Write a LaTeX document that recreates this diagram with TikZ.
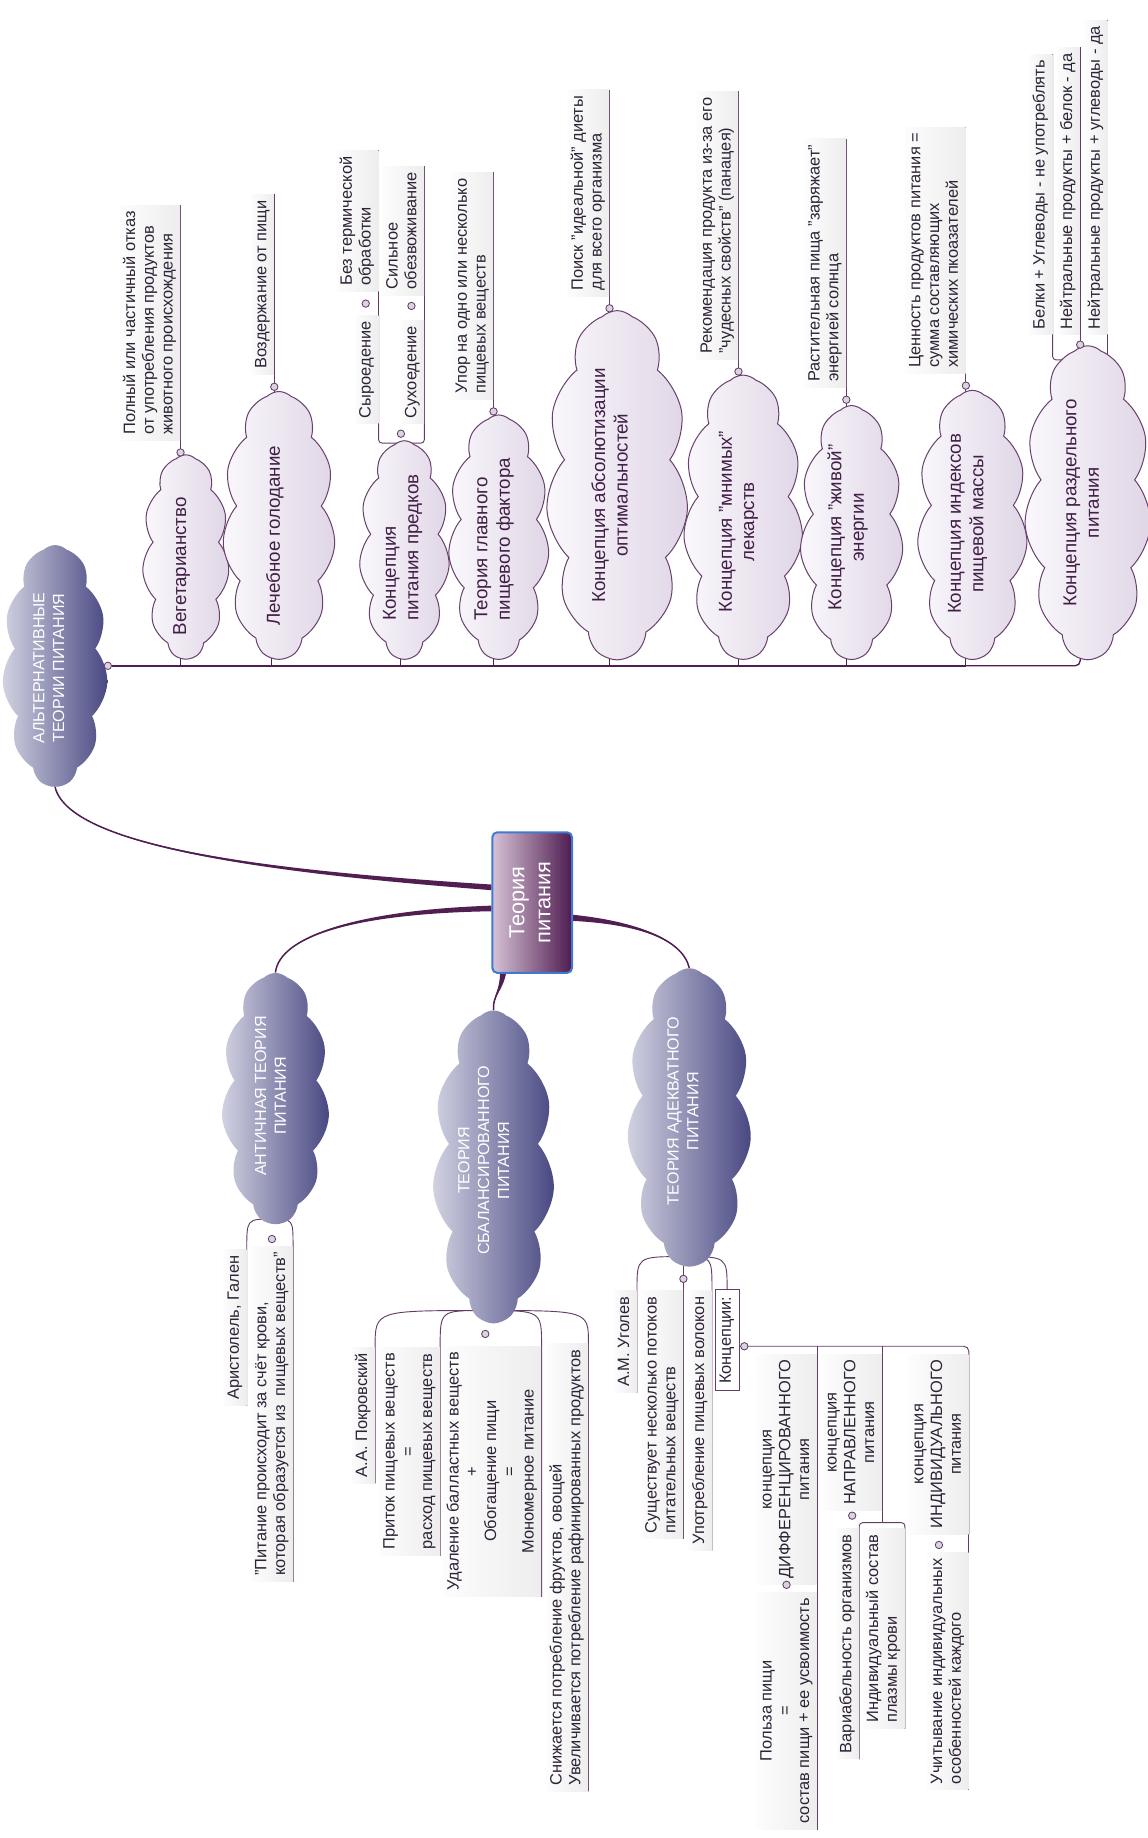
\documentclass[tikz,border=0pt]{standalone}
\usepackage{fontspec}
\usepackage{graphicx}
\setmainfont{Liberation Sans}
\usetikzlibrary{shapes.symbols,calc}
\definecolor{conn}{RGB}{80,30,80}
\definecolor{lnc}{RGB}{100,60,100}
\definecolor{mlight}{RGB}{210,210,226}
\definecolor{mdark}{RGB}{72,72,130}
\definecolor{alight}{RGB}{250,248,252}
\definecolor{adark}{RGB}{224,214,230}
\definecolor{aline}{RGB}{105,65,110}
\definecolor{rlight}{RGB}{214,194,214}
\definecolor{rdark}{RGB}{78,28,80}
\definecolor{rborder}{RGB}{65,120,210}
\definecolor{dotfill}{RGB}{218,212,225}
\definecolor{txt}{RGB}{45,35,55}
\definecolor{ctxt}{RGB}{65,30,70}
\pgfdeclarelayer{bg}
\pgfsetlayers{bg,main}
\newcommand\un{0.7pt}
\newcommand\lfL[1]{\rotatebox{90}{\begin{tabular}{@{}l@{}}#1\end{tabular}}}
\newcommand\lfC[1]{\rotatebox{90}{\begin{tabular}{@{}c@{}}#1\end{tabular}}}
\tikzset{
  leaf/.style={rectangle, inner xsep=1.2pt, inner ysep=3.5pt, left color=black!1, right color=black!7, font=\fontsize{9.8}{11.2}\selectfont, text=txt},
  koncbox/.style={rectangle, draw=lnc, line width=0.6pt, fill=white, inner xsep=1.6pt, inner ysep=4pt, font=\fontsize{9.8}{11.2}\selectfont, text=txt},
  uline/.style={draw=lnc, line width=0.55pt},
  stem/.style={draw=conn, line width=0.6pt},
  dotn/.style={circle, draw=lnc, fill=dotfill, line width=0.5pt, inner sep=0pt, minimum size=4.4pt},
  cloudbase/.style={cloud, cloud puffs=11, cloud puff arc=88, cloud ignores aspect, inner sep=0pt},
  acloud/.style={cloudbase, draw=aline, line width=0.6pt, left color=alight, right color=adark},
  mcloud/.style={cloudbase, draw=none, left color=mlight, right color=mdark},
  atext/.style={font=\fontsize{11.2}{13.4}\selectfont, text=ctxt, inner sep=0pt},
  mtext/.style={font=\fontsize{9.6}{11.8}\selectfont, text=white, inner sep=0pt},
  rootbox/.style={rectangle, rounded corners=3pt, draw=rborder, line width=1.2pt, left color=rlight, right color=rdark, inner sep=0pt, font=\fontsize{13}{15.5}\selectfont, text=white},
}
\begin{document}
\begin{tikzpicture}[x=\un,y=-\un]
\useasboundingbox (0,0) rectangle (979,1568);
% ---------- root
\node[rootbox, minimum width=68*\un, minimum height=120*\un] (root) at (454,770) {\lfC{Теория\\питания}};
% ---------- main clouds
\node[mcloud, minimum width=90*\un, minimum height=206*\un] (alt) at (47,568) {};
\node[mtext] (altt) at (43,570) {\lfC{АЛЬТЕРНАТИВНЫЕ\\ТЕОРИИ ПИТАНИЯ}};
\node[mcloud, minimum width=92*\un, minimum height=214*\un] (ant) at (235,937) {};
\node[mtext] (antt) at (232,935) {\lfC{АНТИЧНАЯ ТЕОРИЯ\\ПИТАНИЯ}};
\node[mcloud, minimum width=104*\un, minimum height=266*\un] (bal) at (421,995) {};
\node[mtext] (balt) at (414,990) {\lfC{ТЕОРИЯ\\СБАЛАНСИРОВАННОГО\\ПИТАНИЯ}};
\node[mcloud, minimum width=106*\un, minimum height=254*\un] (adek) at (588,953) {};
\node[mtext] (adekt) at (584,948) {\lfC{ТЕОРИЯ АДЕКВАТНОГО\\ПИТАНИЯ}};
% ---------- alternative sub clouds
\node[acloud, minimum width=74*\un, minimum height=174*\un] (veg) at (158.5,475) {};
\node[atext] (vegt) at (155,483) {\lfL{Вегетарианство}};
\node[acloud, minimum width=96*\un, minimum height=228*\un] (fast) at (238,448) {};
\node[atext] (fastt) at (235,457) {\lfL{Лечебное голодание}};
\node[acloud, minimum width=77*\un, minimum height=186*\un] (anc) at (345,469) {};
\node[atext] (anct) at (343.5,467) {\lfL{Концепция\\питания предков}};
\node[acloud, minimum width=86*\un, minimum height=208*\un] (mainf) at (425.5,458) {};
\node[atext] (mainft) at (421.5,460) {\lfL{Теория главного\\пищевого фактора}};
\node[acloud, minimum width=121*\un, minimum height=297*\un] (abs) at (526.5,413.5) {};
\node[atext] (abst) at (522,414) {\lfC{Концепция абсолютизации\\оптимальностей}};
\node[acloud, minimum width=102*\un, minimum height=242*\un] (mn) at (634,441) {};
\node[atext] (mnt) at (630,445) {\lfC{Концепция "мнимых"\\лекарств}};
\node[acloud, minimum width=88*\un, minimum height=216*\un] (ziv) at (726.5,454) {};
\node[atext] (zivt) at (723.5,450) {\lfC{Концепция "живой"\\энергии}};
\node[acloud, minimum width=94*\un, minimum height=229*\un] (ind) at (829.5,447.5) {};
\node[atext] (indt) at (825.5,447) {\lfC{Концепция индексов\\пищевой массы}};
\node[acloud, minimum width=108*\un, minimum height=267*\un] (razd) at (928,428.5) {};
\node[atext] (razdt) at (924,429) {\lfC{Концепция раздельного\\питания}};
% ---------- top leaves
\node[leaf, anchor=south east] (polny) at (154,376) {\lfL{Полный или частичный отказ\\от употребления продуктов\\животного происхождения}};
\node[leaf, anchor=south east] (vozd) at (234,320) {\lfL{Воздержание от пищи}};
\node[leaf, anchor=south east] (syr) at (323,362) {\lfL{Сыроедение}};
\node[leaf, anchor=south east] (suh) at (362,362) {\lfL{Сухоедение}};
\node[leaf, anchor=south east] (bez) at (323,249) {\lfL{Без термической\\обработки}};
\node[leaf, anchor=south east] (silo) at (362,252) {\lfL{Сильное\\обезвоживание}};
\node[leaf, anchor=south east] (upor) at (421,341) {\lfL{Упор на одно или несколько\\пищевых веществ}};
\node[leaf, anchor=south east] (poisk) at (520,253) {\lfL{Поиск "идеальной" диеты\\для всего организма}};
\node[leaf, anchor=south east] (rekom) at (630,307) {\lfL{Рекомендация продукта из-за его\\"чудесных свойств" (панацея)}};
\node[leaf, anchor=south east] (rast) at (722,331) {\lfL{Растительная пища "заряжает"\\энергией солнца}};
\node[leaf, anchor=south east] (cenn) at (824,319) {\lfL{Ценность продуктов питания =\\сумма составляющих\\химических пкоазателей}};
\node[leaf, anchor=south east] (belki) at (898,286) {\lfL{Белки + Углеводы - не употреблять}};
\node[leaf, anchor=south east] (nbel) at (921.5,286) {\lfL{Нейтральные продукты + белок - да}};
\node[leaf, anchor=south east] (nugl) at (945,286) {\lfL{Нейтральные продукты + углеводы - да}};
% ---------- bottom leaves
\node[leaf, anchor=north east] (arist) at (210.5,1066) {\lfL{Аристолель, Гален}};
\node[leaf, anchor=north east] (quote) at (250,1063) {\lfL{"Питание происходит за счёт крови,\\которая образуется из\ \ пищевых веществ"}};
\node[leaf, anchor=north east] (pokr) at (320,1149) {\lfL{А.А. Покровский}};
\node[leaf, anchor=north east] (prit) at (375.5,1149) {\lfC{Приток пищевых веществ\\=\\расход пищевых веществ}};
\node[leaf, anchor=north east] (udal) at (462,1148) {\lfC{Удаление балластных веществ\\+\\Обогащение пищи\\=\\Мономерное питание}};
\node[leaf, anchor=north east] (sniz) at (502,1146) {\lfL{Снижается потребление фруктов, овощей\\Увеличивается потребление рафинированных продуктов}};
\node[leaf, anchor=north east] (ugol) at (543.4,1101) {\lfL{А.М. Уголев}};
\node[leaf, anchor=north east] (sush) at (583,1101) {\lfL{Существует несколько потоков\\питательных веществ}};
\node[leaf, anchor=north east] (upot) at (607.4,1101) {\lfL{Употребление пищевых волокон}};
\node[koncbox, anchor=north east] (konc) at (631,1100) {\lfL{Концепции:}};
\node[leaf, anchor=north east] (diff) at (697,1155) {\lfC{концепция\\ДИФФЕРЕНЦИРОВАННОГО\\питания}};
\node[leaf, anchor=north east] (napr) at (752.5,1155) {\lfC{концепция\\НАПРАВЛЕННОГО\\питания}};
\node[leaf, anchor=north east] (indv) at (826.5,1155) {\lfC{концепция\\ИНДИВИДУАЛЬНОГО\\питания}};
\node[leaf, anchor=north east] (polza) at (697,1358) {\lfC{Польза пищи\\=\\состав пищи + ее усвоимость}};
\node[leaf, anchor=north east] (varia) at (733,1304) {\lfL{Вариабельность организмов}};
\node[leaf, anchor=north east] (plaz) at (772,1304) {\lfL{Индивидуальный состав\\плазмы крови}};
\node[leaf, anchor=north east] (uchit) at (826.5,1324) {\lfL{Учитывание индивидуальных\\особенностей каждого}};
% ---------- dots
\node[dotn] (altdot) at (92,568) {};
\node[dotn] (vegdot) at (154,386) {};
\node[dotn] (fastdot) at (234,330) {};
\node[dotn] (ancdot) at (342,370) {};
\node[dotn] (syrdot) at (312,259) {};
\node[dotn] (suhdot) at (351,261) {};
\node[dotn] (mainfdot) at (421,351) {};
\node[dotn] (absdot) at (520,263) {};
\node[dotn] (mndot) at (630,317) {};
\node[dotn] (zivdot) at (722,341) {};
\node[dotn] (inddot) at (824,329) {};
\node[dotn] (razddot) at (921.5,294) {};
\node[dotn] (antdot) at (232,1057) {};
\node[dotn] (baldot) at (414,1138) {};
\node[dotn] (adekdot) at (583,1091) {};
\node[dotn] (koncdot) at (635,1148.5) {};
\node[dotn] (diffdot) at (671,1352) {};
\node[dotn] (naprdot) at (727,1293) {};
\node[dotn] (indvdot) at (801,1318) {};
% ---------- connectors
\begin{pgfonlayer}{bg}
\fill[white] (0,0) rectangle (979,1568);
% root -> alternative
\coordinate (rA) at ($(root.west)+(0,-13)$);
\coordinate (cA1) at (250,745); \coordinate (cA2) at (60,725);
\fill[conn] ($(rA)+(0,-2.4)$) .. controls ($(cA1)+(0,-1.3)$) and (cA2) .. (alt.south) .. controls (cA2) and ($(cA1)+(0,1.3)$) .. ($(rA)+(0,2.4)$) -- cycle;
\draw[conn, line width=0.9pt] (rA) .. controls (cA1) and (cA2) .. (alt.south);
% root -> antique
\coordinate (rB) at ($(root.west)+(0,5)$);
\coordinate (cB1) at (300,778); \coordinate (cB2) at (238,800);
\fill[conn] ($(rB)+(0,-2.4)$) .. controls ($(cB1)+(0,-1.3)$) and (cB2) .. (ant.north) .. controls (cB2) and ($(cB1)+(0,1.3)$) .. ($(rB)+(0,2.4)$) -- cycle;
\draw[conn, line width=0.9pt] (rB) .. controls (cB1) and (cB2) .. (ant.north);
% root -> balanced
\coordinate (rC) at ($(root.south west)+(10,-1)$);
\coordinate (cC1) at (428,845); \coordinate (cC2) at (420,850);
\fill[conn] ($(rC)+(-2.6,0)$) .. controls ($(cC1)+(-1.3,0)$) and (cC2) .. (bal.north) .. controls (cC2) and ($(cC1)+(1.3,0)$) .. ($(rC)+(2.6,0)$) -- cycle;
\draw[conn, line width=0.9pt] (rC) .. controls (cC1) and (cC2) .. (bal.north);
% root -> adequate
\coordinate (rD) at ($(root.east)+(0,13)$);
\coordinate (cD1) at (540,787); \coordinate (cD2) at (582,800);
\fill[conn] ($(rD)+(0,-2.6)$) .. controls ($(cD1)+(0,-1.3)$) and (cD2) .. (adek.north) .. controls (cD2) and ($(cD1)+(0,1.3)$) .. ($(rD)+(0,2.6)$) -- cycle;
\draw[conn, line width=0.9pt] (rD) .. controls (cD1) and (cD2) .. (adek.north);
% spine of the alternative branch
\coordinate (spM) at (824,568); \coordinate (spR) at (921.5,568);
\draw[conn, line width=1.2pt] (altdot) -- (spM);
\draw[conn, line width=0.8pt, rounded corners=3pt] (spM) -- (spR) -- (spR |- razd.center);
\coordinate (st1) at (154,568); \coordinate (st2) at (232,568); \coordinate (st3) at (342,568);
\coordinate (st4) at (421,568); \coordinate (st5) at (520,568); \coordinate (st6) at (630,568);
\coordinate (st7) at (722,568);
\draw[stem] (st1) -- (st1 |- veg.center);
\draw[stem] (st2) -- (st2 |- fast.center);
\draw[stem] (st3) -- (st3 |- anc.center);
\draw[stem] (st4) -- (st4 |- mainf.center);
\draw[stem] (st5) -- (st5 |- abs.center);
\draw[stem] (st6) -- (st6 |- mn.center);
\draw[stem] (st7) -- (st7 |- ziv.center);
\draw[stem] (spM) -- (spM |- ind.center);
% top leaves
\draw[uline] (vegdot |- veg.center) -- (vegdot.center) -- (polny.south east) -- (polny.north east);
\draw[uline] (fastdot |- fast.center) -- (fastdot.center) -- (vozd.south east) -- (vozd.north east);
\coordinate (brA) at (342,378);
\draw[uline] (ancdot |- anc.center) -- (brA);
\draw[uline, rounded corners=2pt] (syr.north east) -- (syr.south east |- brA) -- (suh.south east |- brA) -- (suh.north east);
\draw[uline] (syr.north east) -- (bez.south east) -- (bez.north east);
\draw[uline] (suh.north east) -- (silo.south east) -- (silo.north east);
\draw[uline] (mainfdot |- mainf.center) -- (mainfdot.center) -- (upor.south east) -- (upor.north east);
\draw[uline] (absdot |- abs.center) -- (absdot.center) -- (poisk.south east) -- (poisk.north east);
\draw[uline] (mndot |- mn.center) -- (mndot.center) -- (rekom.south east) -- (rekom.north east);
\draw[uline] (zivdot |- ziv.center) -- (zivdot.center) -- (rast.south east) -- (rast.north east);
\draw[uline] (inddot |- ind.center) -- (inddot.center) -- (cenn.south east) -- (cenn.north east);
\coordinate (brR) at (921.5,307);
\draw[uline, rounded corners=2pt] (belki.north east) -- (belki.south east |- brR) -- (brR);
\draw[uline] (nbel.north east) -- (nbel.south east) -- (brR) -- (brR |- razd.center);
\draw[uline] (nugl.north east) -- (nugl.south east) -- (nugl.south east |- razd.center);
% antique children
\coordinate (antb) at (232,1040);
\draw[uline] (antb) .. controls (arist.north east |- antb) .. (arist.north east) -- (arist.south east);
\draw[uline] (antb) .. controls (quote.north east |- antb) .. (quote.north east) -- (quote.south east);
% balanced children
\coordinate (balb) at (413,1118);
\draw[uline] (balb) .. controls (pokr.north east |- balb) .. (pokr.north east) -- (pokr.south east);
\draw[uline] (balb) .. controls (prit.north east |- balb) .. (prit.north east) -- (prit.south east);
\draw[uline] (balb) .. controls (udal.north east |- balb) .. (udal.north east) -- (udal.south east);
\draw[uline] (balb) .. controls (sniz.north east |- balb) .. (sniz.north east) -- (sniz.south east);
% adequate children
\coordinate (adb) at (583,1072);
\draw[uline] (adb) .. controls (ugol.north east |- adb) .. (ugol.north east) -- (ugol.south east);
\draw[uline] (adb) -- (sush.north east) -- (sush.south east);
\draw[uline] (adb) .. controls (upot.north east |- adb) .. (upot.north east) -- (upot.south east);
\draw[uline] (adb) .. controls (konc.north |- adb) .. (konc.north);
% concepts comb
\draw[uline] (konc.east |- koncdot) -- (koncdot.center);
\draw[uline, rounded corners=3pt] (koncdot.center) -- (koncdot -| indv.north east) -- (indv.south east);
\draw[uline] (koncdot -| diff.north east) -- (diff.south east);
\draw[uline] (koncdot -| napr.north east) -- (napr.south east);
\draw[uline] (diff.south east) -- (polza.north east) -- (polza.south east);
\coordinate (brN) at (752.5,1299);
\draw[uline] (napr.south east) -- (brN);
\draw[uline, rounded corners=2pt] (varia.south east) -- (varia.north east |- brN) -- (plaz.north east |- brN) -- (plaz.south east);
\draw[uline] (indv.south east) -- (uchit.north east) -- (uchit.south east);
\end{pgfonlayer}
\end{tikzpicture}
\end{document}
